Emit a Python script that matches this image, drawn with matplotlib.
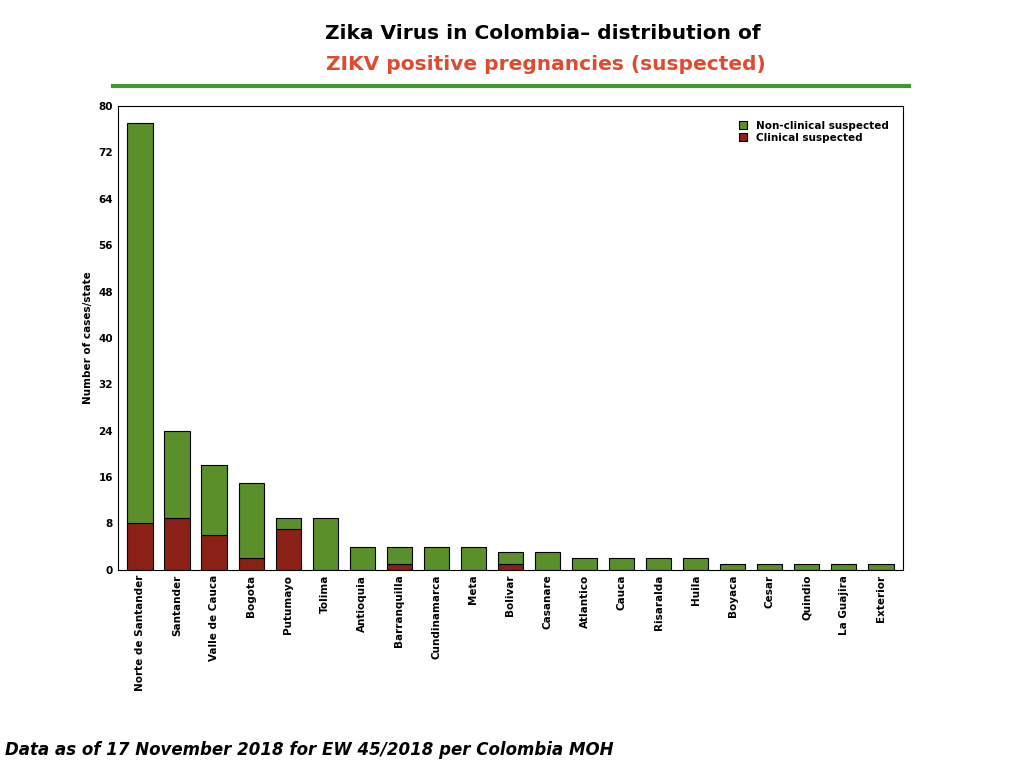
import numpy as np
import matplotlib.pyplot as plt

states = ['Norte de Santander', 'Santander', 'Valle de Cauca', 'Bogota', 'Putumayo',
          'Tolima', 'Antioquia', 'Barranquilla', 'Cundinamarca', 'Meta', 'Bolivar',
          'Casanare', 'Atlantico', 'Cauca', 'Risaralda', 'Huila', 'Boyaca', 'Cesar',
          'Quindio', 'La Guajira', 'Exterior']
clinical = [8, 9, 6, 2, 7, 0, 0, 1, 0, 0, 1, 0, 0, 0, 0, 0, 0, 0, 0, 0, 0]
non_clinical = [69, 15, 12, 13, 2, 9, 4, 3, 4, 4, 2, 3, 2, 2, 2, 2, 1, 1, 1, 1, 1]

green = '#5b8f29'
red = '#8b2116'

fig = plt.figure(figsize=(10.24, 7.68), dpi=100)
ax = fig.add_axes([0.115, 0.258, 0.767, 0.604])

x = np.arange(len(states))
b1 = ax.bar(x, clinical, 0.68, color=red, edgecolor='black', linewidth=0.8,
            label='Clinical suspected')
b2 = ax.bar(x, non_clinical, 0.68, bottom=clinical, color=green, edgecolor='black',
            linewidth=0.8, label='Non-clinical suspected')

ax.set_xlim(-0.6, len(states) - 0.4)
ax.set_ylim(0, 80)
ax.set_yticks(range(0, 81, 8))
ax.set_xticks(x)
ax.set_xticklabels(states, rotation=90, fontsize=7.5, fontweight='bold')
ax.tick_params(axis='y', labelsize=7.5, length=0)
for t in ax.get_yticklabels():
    t.set_fontweight('bold')
ax.tick_params(axis='x', length=0)
ax.set_ylabel('Number of cases/state', fontsize=7.5, fontweight='bold')
ax.legend([b2, b1], ['Non-clinical suspected', 'Clinical suspected'], loc='upper right',
          frameon=False, prop={'weight': 'bold', 'size': 7.5},
          handlelength=0.8, handleheight=0.8, borderaxespad=1.0, labelspacing=0.2)

fig.text(0.53, 0.957, 'Zika Virus in Colombia\u2013 distribution of', ha='center', va='center',
         fontsize=14.5, fontweight='bold')
fig.text(0.533, 0.916, 'ZIKV positive pregnancies (suspected)', ha='center', va='center',
         fontsize=14.5, fontweight='bold', color='#e04a2f')
fig.add_artist(plt.Line2D([0.11, 0.888], [0.888, 0.888], color='#3f9a2f', linewidth=3))
fig.text(0.005, 0.023, 'Data as of 17 November 2018 for EW 45/2018 per Colombia MOH',
         fontsize=12, fontweight='bold', style='italic', va='center')

fig.savefig('out.png')
